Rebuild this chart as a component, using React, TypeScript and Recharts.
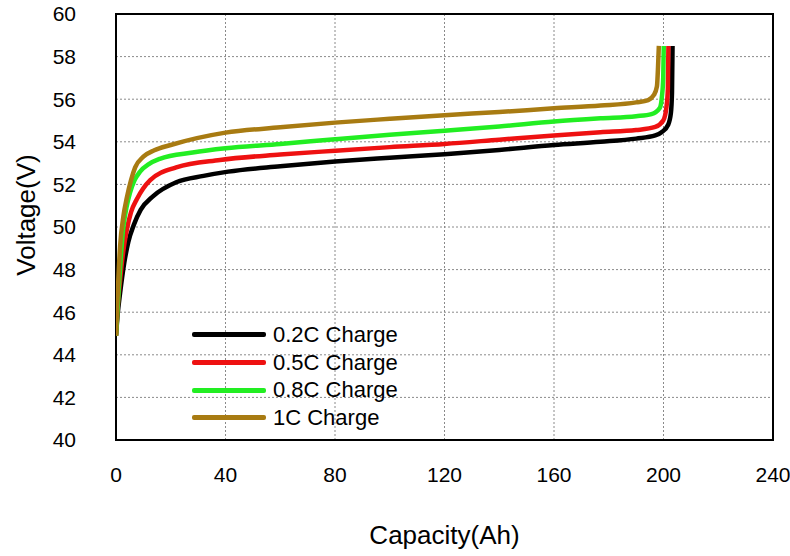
import { LineChart, Line, XAxis, YAxis, CartesianGrid, ReferenceArea, Label } from "recharts";

// capacity (Ah), voltage (V) pairs
const charge02C: [number, number][] = [
  [0, 44.9], [0.6, 45.9], [1.5, 46.9], [3, 48.3], [4.5, 49.3], [6.5, 50.1], [9, 50.8],
  [13.6, 51.45], [22, 52.1], [32, 52.4], [41, 52.6], [60, 52.85], [80, 53.07],
  [100, 53.25], [120, 53.42], [140, 53.62], [160, 53.85], [177, 54.0], [190, 54.15],
  [197, 54.3], [199.3, 54.45], [201.7, 54.8], [202.7, 55.35], [203.1, 56.3], [203.3, 58.5],
];

const charge05C: [number, number][] = [
  [0, 44.9], [0.6, 46.2], [1.5, 47.5], [2.7, 48.9], [4, 49.9], [5.5, 50.7], [7.6, 51.3],
  [12.5, 52.2], [22, 52.8], [38, 53.15], [60, 53.4], [80, 53.58], [100, 53.75], [120, 53.9],
  [140, 54.1], [160, 54.3], [177, 54.45], [190, 54.55], [197, 54.7], [199.9, 55.0],
  [201.1, 55.65], [201.6, 56.5], [201.8, 58.5],
];

const charge08C: [number, number][] = [
  [0, 44.9], [1.2, 47.5], [2.6, 49.9], [3.8, 50.9], [5.1, 51.6], [6.8, 52.2], [8.8, 52.6],
  [12, 52.95], [16, 53.2], [28, 53.5], [40, 53.7], [60, 53.9], [80, 54.12], [100, 54.33],
  [120, 54.52], [140, 54.72], [160, 54.95], [177, 55.1], [190, 55.2], [195.6, 55.3],
  [198.7, 55.6], [199.4, 56.1], [199.9, 57.0], [200.1, 58.5],
];

const charge1C: [number, number][] = [
  [0, 44.9], [0.5, 46.5], [1.5, 49.1], [2.7, 50.5], [4, 51.4], [5.5, 52.2], [7, 52.8],
  [10, 53.3], [14, 53.6], [20, 53.85], [40, 54.43], [60, 54.68], [80, 54.9], [100, 55.08],
  [120, 55.25], [140, 55.4], [160, 55.57], [177, 55.7], [190, 55.85], [194.4, 55.96],
  [196.5, 56.2], [197.6, 56.6], [198.0, 57.5], [198.3, 58.5],
];

const seriesNames = ["0.2C Charge", "0.5C Charge", "0.8C Charge", "1C Charge"];
const seriesColors = ["#000000", "#ee1111", "#22ee22", "#a87b12"];
const seriesPoints = [charge02C, charge05C, charge08C, charge1C];

const xTicks = [0, 40, 80, 120, 160, 200, 240];
const yTicks = [40, 42, 44, 46, 48, 50, 52, 54, 56, 58, 60];

const FONT = "'Liberation Sans', Arial, sans-serif";

export default function App() {
  return (
    <div style={{ position: "absolute", left: 0, top: 0, width: 790, height: 556, background: "#fff", fontFamily: FONT }}>
      <LineChart
        width={790}
        height={556}
        margin={{ top: 14, right: 17, bottom: 0, left: 0 }}
        style={{ fontFamily: FONT }}
      >
        <CartesianGrid stroke="#8a8a8a" strokeDasharray="2 2" strokeWidth={1} />
        <XAxis
          type="number"
          dataKey="x"
          domain={[0, 240]}
          ticks={xTicks}
          height={116}
          tickLine={false}
          axisLine={false}
          tickSize={0}
          tickMargin={27}
          tick={{ fontSize: 21, fill: "#000" }}
          allowDataOverflow
        >
          <Label value="Capacity(Ah)" position="insideBottom" offset={12} fontSize={26} fill="#000" />
        </XAxis>
        <YAxis
          type="number"
          dataKey="y"
          domain={[40, 60]}
          ticks={yTicks}
          width={116}
          tickLine={false}
          axisLine={false}
          tickSize={0}
          tickMargin={40}
          tick={{ fontSize: 21, fill: "#000" }}
          allowDataOverflow
        >
          <Label
            content={() => (
              <text
                x={26}
                y={215}
                transform="rotate(-90, 26, 215)"
                textAnchor="middle"
                dominantBaseline="central"
                fontSize={26}
                fill="#000"
              >
                Voltage(V)
              </text>
            )}
          />
        </YAxis>
        <ReferenceArea x1={0} x2={240} y1={40} y2={60} fill="none" stroke="#000" strokeWidth={2} />
        {seriesPoints.map((pts, i) => (
          <Line
            key={seriesNames[i]}
            name={seriesNames[i]}
            data={pts.map(([x, y]) => ({ x, y }))}
            dataKey="y"
            type="monotone"
            stroke={seriesColors[i]}
            strokeWidth={4.5}
            dot={false}
            activeDot={false}
            isAnimationActive={false}
          />
        ))}
      </LineChart>
      {/* legend sits inside the plot, lower left */}
      <div style={{ position: "absolute", left: 192, top: 321 }}>
        {seriesNames.map((name, i) => (
          <div key={name} style={{ display: "flex", alignItems: "center", height: 27.7 }}>
            <div style={{ width: 74, height: 5, background: seriesColors[i], borderRadius: 2 }} />
            <span style={{ marginLeft: 7, fontSize: 22, color: "#000", lineHeight: "22px" }}>{name}</span>
          </div>
        ))}
      </div>
    </div>
  );
}
